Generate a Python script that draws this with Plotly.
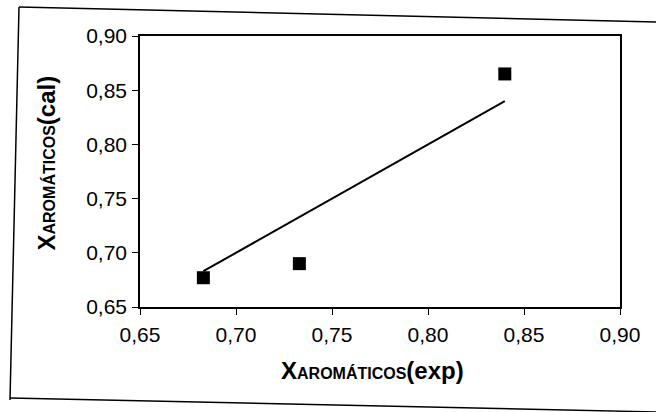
import plotly.graph_objects as go

# Data
x_exp = [0.683, 0.733, 0.840]
y_cal = [0.677, 0.690, 0.865]
line_x = [0.683, 0.840]
line_y = [0.683, 0.840]
tick_vals = [0.65, 0.70, 0.75, 0.80, 0.85, 0.90]
tick_text = ["0,65", "0,70", "0,75", "0,80", "0,85", "0,90"]

W, H = 656, 412
L, R, T, B = 140, 36, 36, 105
PW, PH = W - L - R, H - T - B

def px(x):
    return (x - L) / PW

def py(y):
    return (H - B - y) / PH

FONT = "Liberation Sans, Arial, sans-serif"

fig = go.Figure()
fig.add_trace(go.Scatter(x=line_x, y=line_y, mode="lines",
                         line=dict(color="black", width=2), showlegend=False))
fig.add_trace(go.Scatter(x=x_exp, y=y_cal, mode="markers",
                         marker=dict(symbol="square", size=13, color="black"),
                         showlegend=False))

axis_common = dict(
    tickvals=tick_vals, ticktext=tick_text,
    showline=True, linecolor="black", linewidth=1.5, mirror=True,
    ticks="outside", ticklen=6, tickcolor="black", tickwidth=1.2,
    showgrid=False, zeroline=False,
    tickfont=dict(family=FONT, size=21, color="black"),
)
fig.update_xaxes(range=[0.65, 0.90], ticklabelstandoff=2, **axis_common)
fig.update_yaxes(range=[0.65, 0.90], ticklabelstandoff=1, **axis_common)

fig.add_annotation(
    xref="paper", yref="paper", x=px(372), y=py(386), showarrow=False,
    text="<b>X<span style='font-size:16px'>AROMÁTICOS</span>(exp)</b>",
    font=dict(family=FONT, size=24, color="black"))
fig.add_annotation(
    xref="paper", yref="paper", x=px(30), y=py(163), showarrow=False,
    textangle=-90,
    text="<b>X<span style='font-size:16px'>AROMÁTICOS</span>(cal)</b>",
    font=dict(family=FONT, size=24, color="black"))

# Outer frame of the scanned chart
for (x0, y0, x1, y1) in [(19, 7, 660, 22), (19, 7, 10, 400), (10, 398, 660, 412)]:
    fig.add_shape(type="line", xref="paper", yref="paper",
                  x0=px(x0), y0=py(y0), x1=px(x1), y1=py(y1),
                  line=dict(color="black", width=1.5))

fig.update_layout(
    width=W, height=H,
    margin=dict(l=L, r=R, t=T, b=B),
    paper_bgcolor="white", plot_bgcolor="white",
    font=dict(family=FONT, color="black"),
)

fig.write_html("out.html", config={"displayModeBar": False},
               post_script="document.body.style.margin='0';document.body.style.overflow='hidden';")
